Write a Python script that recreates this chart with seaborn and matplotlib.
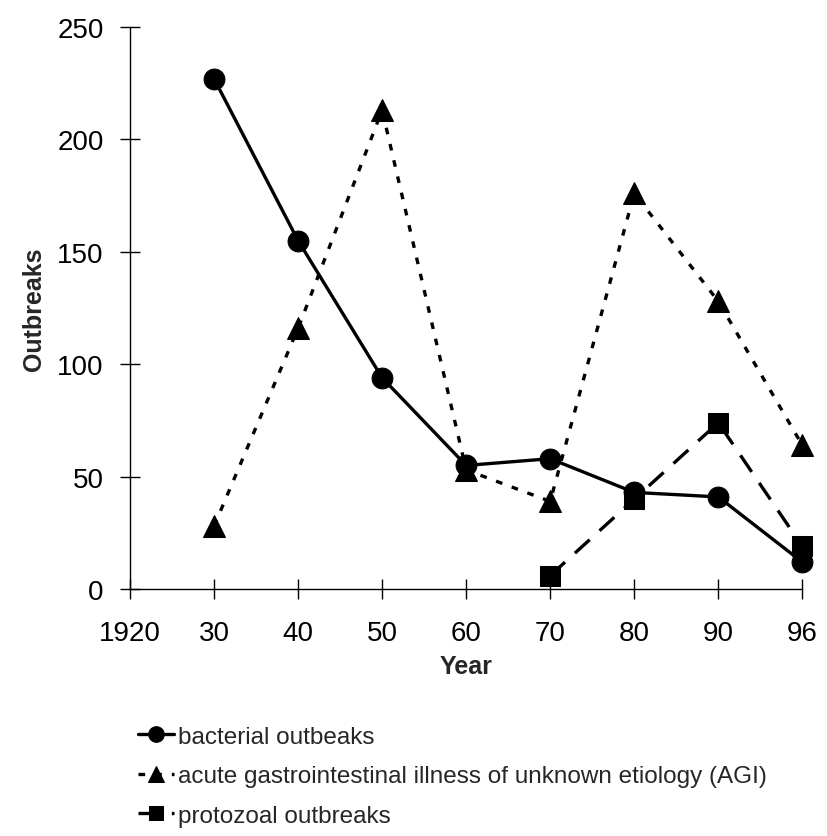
import numpy as np
import pandas as pd
import seaborn as sns
import matplotlib.pyplot as plt

# category labels along x (evenly spaced)
years = ["1920", "30", "40", "50", "60", "70", "80", "90", "96"]
bacterial = [np.nan, 227, 155, 94, 55, 58, 43, 41, 12]
agi = [np.nan, 28, 116, 213, 53, 39, 176, 128, 64]
protozoal = [np.nan, np.nan, np.nan, np.nan, np.nan, 6, 40, 74, 19]

labels = [
    "bacterial outbeaks",
    "acute gastrointestinal illness of unknown etiology (AGI)",
    "protozoal outbreaks",
]


def main():
    sns.set_style("ticks")
    plt.rcParams["font.family"] = ["Liberation Sans", "DejaVu Sans"]

    pos = np.arange(len(years))
    df = pd.DataFrame({"pos": pos, "bacterial": bacterial, "agi": agi, "protozoal": protozoal})

    fig = plt.figure(figsize=(8.28, 8.37), dpi=100)
    ax = fig.add_axes([0.157, 0.295, 0.812, 0.6715])

    sns.lineplot(data=df, x="pos", y="bacterial", ax=ax, color="black", lw=2.4,
                 marker="o", markersize=15, markeredgecolor="black", label=labels[0])
    sns.lineplot(data=df, x="pos", y="agi", ax=ax, color="black", lw=2.4,
                 marker="^", markersize=16, markeredgecolor="black", label=labels[1])
    sns.lineplot(data=df, x="pos", y="protozoal", ax=ax, color="black", lw=2.4,
                 marker="s", markersize=14, markeredgecolor="black", label=labels[2])
    ax.lines[1].set_dashes((2, 3))
    ax.lines[2].set_dashes((6, 4))
    for ln in ax.lines:
        ln.set_clip_on(False)

    ax.set_xlim(0, len(years) - 1)
    ax.set_ylim(0, 250)
    ax.set_xticks(pos)
    ax.set_xticklabels(years)
    ax.set_yticks(range(0, 251, 50))
    ax.tick_params(axis="both", direction="inout", length=14, width=1, labelsize=20,
                   colors="black")
    ax.tick_params(axis="x", pad=15)
    ax.tick_params(axis="y", pad=12)
    for s in ["left", "bottom"]:
        ax.spines[s].set_linewidth(1)
        ax.spines[s].set_color("black")
    sns.despine(ax=ax)
    ax.set_xlabel("Year", fontsize=18, fontweight="bold", labelpad=6)
    ax.set_ylabel("Outbreaks", fontsize=18, fontweight="bold", labelpad=8)

    handles, labs = ax.get_legend_handles_labels()
    ax.get_legend().remove()
    handles[1].set_dashes((2, 3))
    handles[2].set_dashes((6, 4))
    fig.legend(handles, labs, loc="upper left", bbox_to_anchor=(0.152, 0.146),
               frameon=False, fontsize=17.5, handlelength=1.5, handletextpad=0.15,
               labelspacing=0.72, borderpad=0, markerscale=0.75)

    fig.savefig("out.png", dpi=100)


if __name__ == "__main__":
    main()
